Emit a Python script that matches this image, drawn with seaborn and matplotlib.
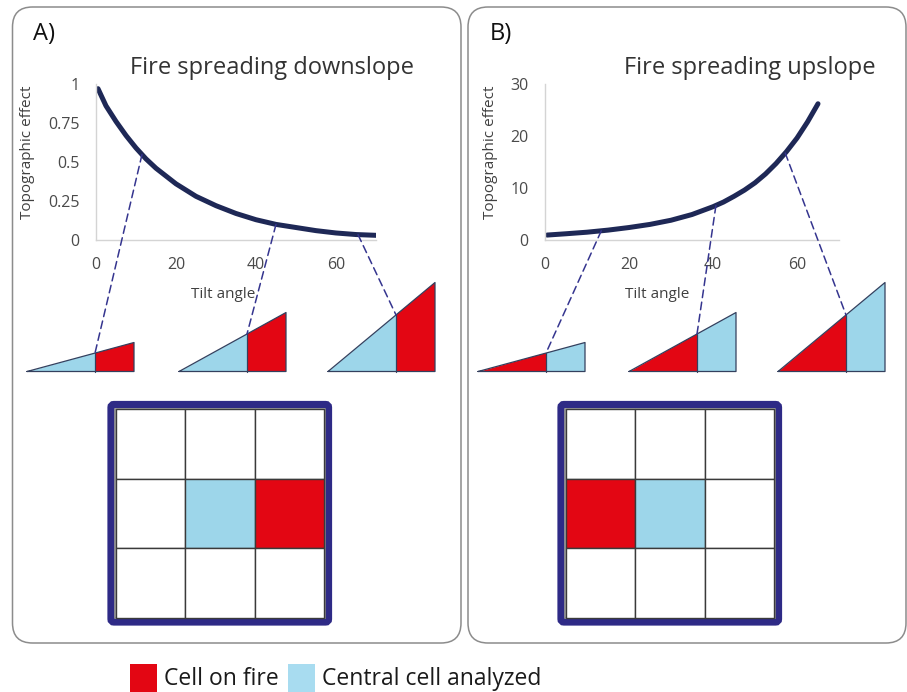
import numpy as np
import matplotlib
matplotlib.use("Agg")
import matplotlib.pyplot as plt
import seaborn as sns
from matplotlib.patches import FancyBboxPatch, Rectangle, Polygon, ConnectionPatch

# data
tilt_down = [0.5, 2.5, 5, 7.5, 10, 12.5, 15, 17.5, 20, 22.5, 25, 27.5, 30, 35, 40, 45, 50, 55, 60, 65, 70]
effect_down = [0.97, 0.86, 0.76, 0.67, 0.59, 0.52, 0.46, 0.41, 0.36, 0.32, 0.28, 0.25, 0.22,
               0.17, 0.13, 0.10, 0.08, 0.06, 0.045, 0.035, 0.03]
tilt_up = [0.5, 5, 10, 15, 20, 25, 30, 35, 40, 42.5, 45, 47.5, 50, 52.5, 55, 57.5, 60, 62.5, 65]
effect_up = [0.95, 1.2, 1.5, 1.9, 2.4, 3.0, 3.8, 4.9, 6.4, 7.3, 8.4, 9.6, 11.0, 12.7, 14.7,
             17.0, 19.6, 22.7, 26.2]
link_down = [11.5, 45.0, 65.5]   # tilt where dashed links start
link_up = [13.4, 40.7, 57.2]
x_ticks = [0, 20, 40, 60]
y_ticks_down = [0, 0.25, 0.5, 0.75, 1]
y_tick_labels_down = ["0", "0.25", "0.5", "0.75", "1"]
y_ticks_up = [0, 10, 20, 30]
tri_heights = [29, 59, 89]       # slope sketches, px
fire_cell_down = (1, 2)          # (row, col) in 3x3 grid
centre_cell = (1, 1)
fire_cell_up = (1, 0)

RED = "#e30613"
BLUE = "#9dd6ea"
NAVY = "#2e2a86"
CURVE = "#1e2856"

sns.set_style("white")
plt.rcParams["font.family"] = ["Open Sans", "DejaVu Sans"]

W, H = 907, 692
fig = plt.figure(figsize=(W / 100, H / 100), dpi=100)

# overlay in pixel units for the sketch parts
ov = fig.add_axes([0, 0, 1, 1])
ov.set_xlim(0, W)
ov.set_ylim(H, 0)
ov.axis("off")

for x0, x1 in [(12.5, 461), (468, 906)]:
    ov.add_patch(FancyBboxPatch((x0, 7), x1 - x0, 636, boxstyle="round,pad=0,rounding_size=20",
                                fc="white", ec="#8c8c8c", lw=1.1))

ov.text(33, 34, "A)", fontsize=17, va="center", ha="left", color="#111111")
ov.text(490, 34, "B)", fontsize=17, va="center", ha="left", color="#111111")
ov.text(130, 68, "Fire spreading downslope", fontsize=17, va="center", ha="left", color="#333333")
ov.text(624, 68, "Fire spreading upslope", fontsize=17, va="center", ha="left", color="#333333")


def slope_sketch(left, base_y, h, low_col, high_col):
    width, split = 107, 68
    hs = h * split / width
    ov.add_patch(Polygon([(left, base_y), (left + split, base_y), (left + split, base_y - hs)],
                         closed=True, fc=low_col, ec="none"))
    ov.add_patch(Polygon([(left + split, base_y), (left + width, base_y), (left + width, base_y - h),
                          (left + split, base_y - hs)], closed=True, fc=high_col, ec="none"))
    ov.plot([left, left + width, left + width, left], [base_y, base_y, base_y - h, base_y],
            color="#34405e", lw=0.9)
    ov.plot([left + split, left + split], [base_y, base_y - hs], color="#34405e", lw=0.9)
    return left + split, base_y - hs


tips_down = [slope_sketch(l, 371.5, h, BLUE, RED) for l, h in zip([27, 179, 328], tri_heights)]
tips_up = [slope_sketch(l, 371.5, h, RED, BLUE) for l, h in zip([478, 629, 778], tri_heights)]


def grid(left, top, fire, cell=69.5):
    ov.add_patch(FancyBboxPatch((left - 4.5, top - 4.5), 3 * cell + 9, 3 * cell + 9,
                                boxstyle="round,pad=0,rounding_size=3", fc="none", ec=NAVY, lw=5.2))
    ov.add_patch(Rectangle((left - 0.5, top - 0.5), 3 * cell + 1, 3 * cell + 1, fc="none",
                           ec="#8a8a8a", lw=1.2))
    for r in range(3):
        for c in range(3):
            fc = "white"
            if (r, c) == centre_cell:
                fc = BLUE
            if (r, c) == fire:
                fc = RED
            ov.add_patch(Rectangle((left + c * cell, top + r * cell), cell, cell, fc=fc,
                                   ec="#3a3a3a", lw=1.0))


grid(115.5, 409, fire_cell_down)
grid(565.5, 409, fire_cell_up)

# legend
ov.add_patch(Rectangle((130, 664), 27, 28, fc=RED, ec="none"))
ov.text(164, 679, "Cell on fire", fontsize=16.5, va="center", ha="left", color="#1a1a1a")
ov.add_patch(Rectangle((288, 664), 27, 28, fc="#a8dcf0", ec="none"))
ov.text(322, 679, "Central cell analyzed", fontsize=16.5, va="center", ha="left", color="#1a1a1a")


def chart(x0, x1, ylim, tilt, effect, yticks, ylabels, xlabel_x, ylabel_x):
    ax = fig.add_axes([x0 / W, (H - 240) / H, (x1 - x0) / W, 156 / H])
    ax.patch.set_alpha(0)
    sns.lineplot(x=tilt, y=effect, ax=ax, color=CURVE, lw=3.6, solid_capstyle="round")
    ax.set_xlim(0, 70)
    ax.set_ylim(*ylim)
    ax.set_xticks(x_ticks)
    ax.set_yticks(yticks)
    ax.set_yticklabels(ylabels)
    ax.tick_params(length=0, labelsize=11.5, colors="#4a4a4a")
    ax.tick_params(axis="x", pad=12)
    ax.tick_params(axis="y", pad=12)
    for s in ["top", "right"]:
        ax.spines[s].set_visible(False)
    for s in ["left", "bottom"]:
        ax.spines[s].set_color("#d4d4d4")
        ax.spines[s].set_linewidth(1.0)
    ax.set_xlabel("Tilt angle", fontsize=11, color="#404040")
    ax.set_ylabel("Topographic effect", fontsize=11, color="#404040")
    ax.xaxis.set_label_coords((xlabel_x - x0) / (x1 - x0), -0.3)
    ax.yaxis.set_label_coords((ylabel_x - x0) / (x1 - x0), 0.56)
    return ax


ax_a = chart(96, 376, (0, 1), tilt_down, effect_down, y_ticks_down, y_tick_labels_down, 223, 35)
ax_b = chart(545, 839, (0, 30), tilt_up, effect_up, y_ticks_up, [str(t) for t in y_ticks_up], 657, 498)

for ax, tilt, effect, links, tips in [(ax_a, tilt_down, effect_down, link_down, tips_down),
                                      (ax_b, tilt_up, effect_up, link_up, tips_up)]:
    for lx, tip in zip(links, tips):
        ly = np.interp(lx, tilt, effect)
        con = ConnectionPatch(xyA=(lx, ly), coordsA=ax.transData, xyB=tip, coordsB=ov.transData,
                              color="#35358f", lw=1.1, linestyle=(0, (5, 3)))
        fig.add_artist(con)

fig.savefig("out.png", dpi=100)
